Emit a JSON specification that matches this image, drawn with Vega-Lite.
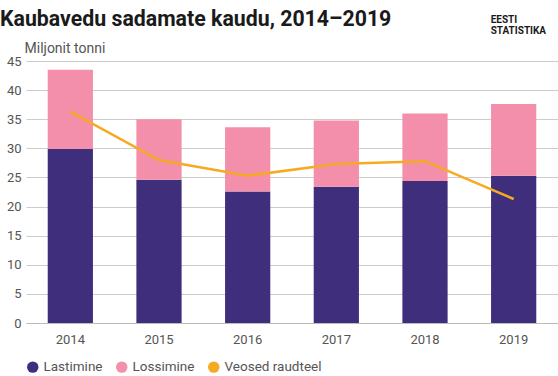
{
  "$schema": "https://vega.github.io/schema/vega-lite/v6.json",
  "width": 558,
  "height": 376,
  "autosize": {"type": "fit", "contains": "padding"},
  "padding": {"left": 0, "top": -9, "right": 0, "bottom": 2},
  "background": "white",
  "title": {
    "text": "Kaubavedu sadamate kaudu, 2014–2019",
    "anchor": "start",
    "frame": "group",
    "font": "Roboto",
    "fontSize": 21.3,
    "fontWeight": "bold",
    "color": "#1a1a1a",
    "offset": -16,
    "dx": -26
  },
  "config": {
    "view": {"stroke": null},
    "font": "Roboto",
    "axis": {"labelFont": "Roboto", "labelFontSize": 13, "labelColor": "#555555", "titleFont": "Roboto"},
    "axisY": {
      "titleAngle": 0,
      "titleAlign": "left",
      "titleBaseline": "alphabetic",
      "titleX": -2,
      "titleY": -9,
      "titleFontSize": 14,
      "titleFontWeight": "normal",
      "titleColor": "#555555",
      "labelOverlap": false,
      "ticks": false,
      "domain": false,
      "gridColor": "#cccccc",
      "labelPadding": 5
    }
  },
  "data": {
    "values": [
      {"year": "2014", "series": "Lastimine", "value": 29.9},
      {"year": "2014", "series": "Lossimine", "value": 13.6},
      {"year": "2014", "series": "Veosed raudteel", "value": 36.3},
      {"year": "2015", "series": "Lastimine", "value": 24.6},
      {"year": "2015", "series": "Lossimine", "value": 10.4},
      {"year": "2015", "series": "Veosed raudteel", "value": 28.0},
      {"year": "2016", "series": "Lastimine", "value": 22.6},
      {"year": "2016", "series": "Lossimine", "value": 11.0},
      {"year": "2016", "series": "Veosed raudteel", "value": 25.3},
      {"year": "2017", "series": "Lastimine", "value": 23.4},
      {"year": "2017", "series": "Lossimine", "value": 11.4},
      {"year": "2017", "series": "Veosed raudteel", "value": 27.3},
      {"year": "2018", "series": "Lastimine", "value": 24.4},
      {"year": "2018", "series": "Lossimine", "value": 11.6},
      {"year": "2018", "series": "Veosed raudteel", "value": 27.8},
      {"year": "2019", "series": "Lastimine", "value": 25.3},
      {"year": "2019", "series": "Lossimine", "value": 12.3},
      {"year": "2019", "series": "Veosed raudteel", "value": 21.3}
    ]
  },
  "encoding": {
    "x": {
      "field": "year",
      "type": "nominal",
      "scale": {"paddingInner": 0.49, "paddingOuter": 0.245},
      "axis": {"title": null, "labelAngle": 0, "ticks": false, "domainColor": "#bbbbbb", "labelPadding": 10, "grid": false}
    }
  },
  "layer": [
    {
      "transform": [{"filter": "datum.series !== 'Veosed raudteel'"}],
      "mark": {"type": "bar"},
      "encoding": {
        "y": {
          "field": "value",
          "type": "quantitative",
          "stack": "zero",
          "scale": {"domain": [0, 45], "nice": false},
          "axis": {"title": "Miljonit tonni", "values": [0, 5, 10, 15, 20, 25, 30, 35, 40, 45]}
        },
        "color": {
          "field": "series",
          "type": "nominal",
          "scale": {"domain": ["Lastimine", "Lossimine", "Veosed raudteel"], "range": ["#3f2e7c", "#f48fab", "#f6aa22"]},
          "legend": {
            "title": null,
            "orient": "bottom",
            "direction": "horizontal",
            "symbolType": "circle",
            "symbolSize": 130,
            "symbolStrokeWidth": 0,
            "labelFontSize": 13.5,
            "labelColor": "#555555",
            "labelFont": "Roboto",
            "columnPadding": 12,
            "offset": 14,
            "padding": 0
          }
        },
        "order": {"field": "series", "sort": "ascending"}
      }
    },
    {
      "transform": [{"filter": "datum.series === 'Veosed raudteel'"}],
      "mark": {"type": "line", "strokeWidth": 2.5},
      "encoding": {
        "y": {"field": "value", "type": "quantitative", "scale": {"domain": [0, 45], "nice": false}, "axis": {"title": "Miljonit tonni", "values": [0, 5, 10, 15, 20, 25, 30, 35, 40, 45]}},
        "color": {"field": "series", "type": "nominal"}
      }
    },
    {
      "data": {"values": [{"year": "2019", "v": 52.1, "t": ["EESTI", "STATISTIKA"]}]},
      "mark": {"type": "text", "align": "left", "baseline": "middle", "fontWeight": "bold", "fontSize": 10, "lineHeight": 11, "color": "#1a1a1a", "dx": -23, "clip": false},
      "encoding": {
        "y": {"field": "v", "type": "quantitative", "scale": {"domain": [0, 45], "nice": false}, "axis": {"title": "Miljonit tonni", "values": [0, 5, 10, 15, 20, 25, 30, 35, 40, 45]}},
        "text": {"field": "t"}
      }
    }
  ]
}
